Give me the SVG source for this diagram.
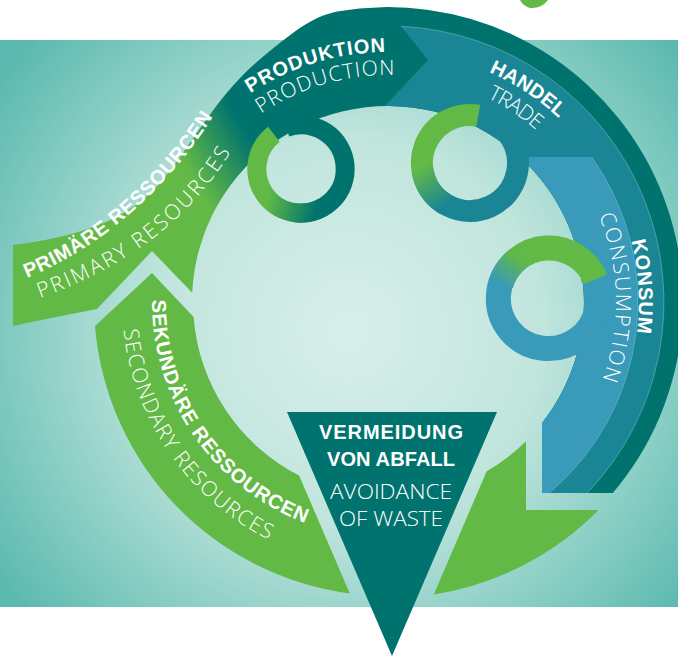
<svg xmlns="http://www.w3.org/2000/svg" width="678" height="656" viewBox="0 0 678 656">
<defs>
<radialGradient id="bg" gradientUnits="userSpaceOnUse" cx="350" cy="330" r="430">
<stop offset="0" stop-color="#d9efea"/>
<stop offset="0.45" stop-color="#c0e5dd"/>
<stop offset="0.8" stop-color="#80cac0"/>
<stop offset="1" stop-color="#5cb9af"/>
</radialGradient>
<linearGradient id="gPrim" gradientUnits="userSpaceOnUse" x1="185" y1="165" x2="245" y2="130">
<stop offset="0" stop-color="#62b946"/>
<stop offset="1" stop-color="#00736e"/>
</linearGradient>
<linearGradient id="gR1" gradientUnits="userSpaceOnUse" x1="316.1" y1="210.3" x2="267.3" y2="197.3">
<stop offset="0" stop-color="#00736e"/>
<stop offset="1" stop-color="#62b946"/>
</linearGradient>
<linearGradient id="gR2" gradientUnits="userSpaceOnUse" x1="446" y1="204.6" x2="422.2" y2="167.2">
<stop offset="0" stop-color="#1a8595"/>
<stop offset="1" stop-color="#62b946"/>
</linearGradient>
<linearGradient id="gR3" gradientUnits="userSpaceOnUse" x1="500.7" y1="285.1" x2="520.3" y2="257">
<stop offset="0" stop-color="#3a9aba"/>
<stop offset="1" stop-color="#62b946"/>
</linearGradient>
<path id="tpProdB" d="M250.4 93.3 A250 250 0 0 1 513 85.5"/>
<path id="tpProdL" d="M261.1 113.8 A227 227 0 0 1 501.5 105.4"/>
<path id="tpHanB" d="M488.9 72.2 A251 251 0 0 1 639 302"/>
<path id="tpHanL" d="M487.2 97.8 A227 227 0 0 1 615 302"/>
<path id="tpKonB" d="M631.4 240.9 A251 251 0 0 1 513.5 519.4"/>
<path id="tpKonL" d="M598.9 215.5 A228 228 0 0 1 502 499.5"/>
<path id="tpSekB" d="M152 299.9 A236 236 0 0 0 388 538"/>
<path id="tpSekL" d="M123.5 329.8 A266 266 0 0 0 388 568"/>
<path id="tpPriB" d="M27 278 C90 252 160 200 212 118"/>
<path id="tpPriL" d="M40 298 C105 275 180 235 232 150"/>
</defs>
<style>
.b{font-family:"Liberation Sans",Arial,sans-serif;font-weight:bold;font-size:20px;fill:#fff}
.l{font-family:"Open Sans","Lato",sans-serif;font-weight:300;font-size:21px;fill:#fff}
.ring{fill:none}
.sep{fill:none;stroke:#6fb9c0;stroke-width:1;stroke-opacity:0.6}
</style>
<rect x="0" y="40" width="678" height="567" fill="url(#bg)"/>
<path d="M520 0 L548 0 Q541 9 530 8 Q523 6 520 0 Z" fill="#62b946"/>
<g id="connectors">
<path id="band-primaer-produktion" fill="url(#gPrim)" d="M13 245 C75 237 125 222 158 185 C190 150 215 95 265 55 C290 35 310 17 337 11.5 A295 295 0 0 1 612.8 493 L542 493 L542 423.2 A196 196 0 1 0 192.2 292.8 L152 251 L97 309 C70 314 40 320 13 326 Z"/>
<path id="band-handel" fill="#1a8595" d="M401 26.3 A276 276 0 0 1 587.2 493 L542 493 L542 423.2 A196 196 0 0 0 384.9 106 L428 60 Z"/>
<path class="sep" d="M401 26.3 A276 276 0 0 1 587.2 493"/>
<path id="band-konsum" fill="#3a9aba" d="M520 157 L591.7 157 A250 250 0 0 1 549.3 493 L542 493 L542 423.2 A196 196 0 0 0 520 157 Z"/>
<path class="sep" d="M591.7 157 A250 250 0 0 1 549.3 493"/>
<path id="band-sekundaer" fill="#62b946" d="M95 326.1 L152 273 L193.6 317 A195 195 0 0 0 299.1 475.6 L349.8 593.5 A294 294 0 0 1 95 326.1 Z"/>
<path id="band-return" fill="#62b946" d="M486.7 471.3 A196 196 0 0 0 526 441.2 L526 510 L598.6 510 A296 296 0 0 1 433.8 594.4 Z"/>
</g>
<g id="ring-produktion">
<path class="ring" stroke="#00736e" stroke-width="19" d="M286 127.7 A44 44 0 1 1 293.4 212.3"/>
<path class="ring" stroke="url(#gR1)" stroke-width="19" d="M323 207.1 A44 44 0 0 1 273.9 134.3"/>
</g>
<g id="ring-handel">
<path class="ring" stroke="#1a8595" stroke-width="22" d="M506.8 132.2 A48 48 0 1 1 422.7 171.3"/>
<path class="ring" stroke="url(#gR2)" stroke-width="22" d="M446 204.6 A48 48 0 0 1 478.3 115.7"/>
</g>
<g id="ring-konsum">
<path class="ring" stroke="#3a9aba" stroke-width="25" d="M591.3 273 A50 50 0 1 1 513.6 262.6"/>
<path class="ring" stroke="url(#gR3)" stroke-width="25" d="M500.7 285.1 A50 50 0 0 1 595.4 279.3"/>
</g>
<g id="node-vermeidung">
<polygon points="287,412 497,412 392,656" fill="#00736e"/>
<text class="b" x="391" y="439" text-anchor="middle" font-size="21" textLength="144">VERMEIDUNG</text>
<text class="b" x="391" y="466" text-anchor="middle" font-size="21" textLength="128">VON ABFALL</text>
<text class="l" x="391" y="499" text-anchor="middle" font-size="23" textLength="122" lengthAdjust="spacingAndGlyphs">AVOIDANCE</text>
<text class="l" x="391" y="526" text-anchor="middle" font-size="23" textLength="104" lengthAdjust="spacingAndGlyphs">OF WASTE</text>
</g>
<g id="node-produktion">
<text class="b"><textPath href="#tpProdB" textLength="143">PRODUKTION</textPath></text>
<text class="l"><textPath href="#tpProdL" textLength="141">PRODUCTION</textPath></text>
</g>
<g id="node-handel">
<text class="b"><textPath href="#tpHanB" textLength="84">HANDEL</textPath></text>
<text class="l"><textPath href="#tpHanL" textLength="59">TRADE</textPath></text>
</g>
<g id="node-konsum">
<text class="b"><textPath href="#tpKonB" textLength="93">KONSUM</textPath></text>
<text class="l"><textPath href="#tpKonL" textLength="168">CONSUMPTION</textPath></text>
</g>
<g id="node-sekundaer">
<text class="b"><textPath href="#tpSekB" textLength="288">SEKUNDÄRE RESSOURCEN</textPath></text>
<text class="l"><textPath href="#tpSekL" textLength="266">SECONDARY RESOURCES</textPath></text>
</g>
<g id="node-primaer">
<text class="b"><textPath href="#tpPriB" textLength="250">PRIMÄRE RESSOURCEN</textPath></text>
<text class="l"><textPath href="#tpPriL" textLength="245">PRIMARY RESOURCES</textPath></text>
</g>
</svg>
